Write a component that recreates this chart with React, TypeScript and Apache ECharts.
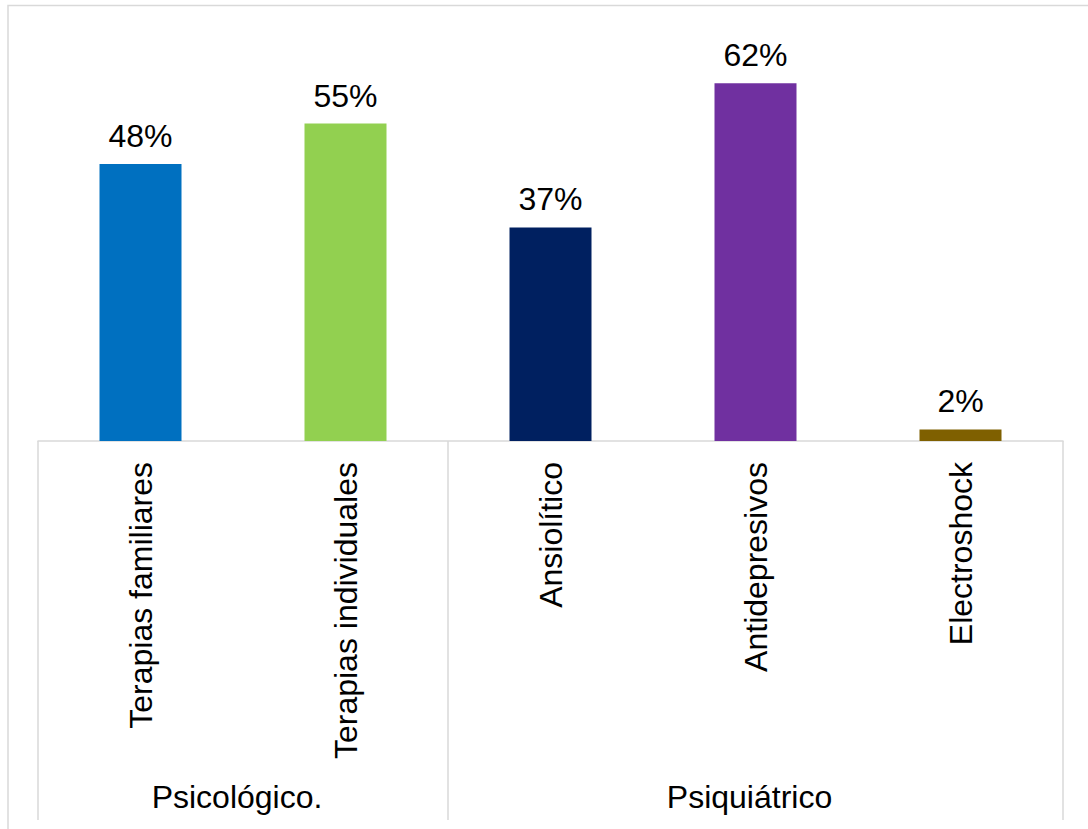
import React, { useEffect, useRef } from "react";
import * as echarts from "echarts";

// Treatment categories, their groups and shares (%)
const categories = [
  "Terapias familiares",
  "Terapias individuales",
  "Ansiolítico",
  "Antidepresivos",
  "Electroshock",
];
const values = [48, 55, 37, 62, 2];
const barColors = ["#0070C0", "#92D050", "#002060", "#7030A0", "#7F6000"];

// Second-level axis groups: name and number of categories they cover
const groupNames = ["Psicológico.", "Psiquiátrico"];
const groupSizes = [2, 3];

const FONT = "'Liberation Sans', Arial, sans-serif";
const FONT_SIZE = 32;
const GRID_LINE = "#d9d9d9";

export default function App() {
  const ref = useRef<HTMLDivElement>(null);

  useEffect(() => {
    if (!ref.current) return;
    const chart = echarts.init(ref.current, null, { renderer: "svg" });

    chart.setOption({
      animation: false,
      backgroundColor: "#ffffff",
      grid: { left: 38, right: 25, top: 37, bottom: 388, containLabel: false },
      xAxis: {
        type: "category",
        data: categories,
        axisLine: { show: true, lineStyle: { color: GRID_LINE, width: 1.5 } },
        axisTick: { show: false },
        axisLabel: {
          rotate: 90,
          margin: 21,
          color: "#000000",
          fontSize: FONT_SIZE,
          fontFamily: FONT,
          interval: 0,
        },
      },
      yAxis: {
        type: "value",
        min: 0,
        max: 70,
        show: false,
        splitLine: { show: false },
      },
      series: [
        {
          type: "bar",
          barWidth: "40%",
          data: values.map((v, i) => ({ value: v, itemStyle: { color: barColors[i] } })),
          label: {
            show: true,
            position: "top",
            distance: 12,
            formatter: "{c}%",
            color: "#000000",
            fontSize: FONT_SIZE,
            fontFamily: FONT,
          },
        },
      ],
    });

    // Category boundaries and group labels, placed from the axis scale
    const c0 = chart.convertToPixel({ xAxisIndex: 0 }, 0) as number;
    const c1 = chart.convertToPixel({ xAxisIndex: 0 }, 1) as number;
    const band = c1 - c0;
    const axisY = chart.convertToPixel({ yAxisIndex: 0 }, 0) as number;
    const lineBottom = axisY + 379;

    const boundaries: number[] = [c0 - band / 2];
    let idx = 0;
    groupSizes.forEach((n) => {
      idx += n;
      boundaries.push(c0 + (idx - 0.5) * band);
    });

    const graphics: any[] = [
      {
        type: "rect",
        shape: { x: 8, y: 5.5, width: 1300, height: 1000 },
        style: { fill: "none", stroke: GRID_LINE, lineWidth: 1.5 },
        silent: true,
      },
    ];
    boundaries.forEach((x) => {
      graphics.push({
        type: "line",
        shape: { x1: x, y1: axisY, x2: x, y2: lineBottom },
        style: { stroke: GRID_LINE, lineWidth: 1.5 },
        silent: true,
      });
    });
    groupNames.forEach((name, g) => {
      const mid = (boundaries[g] + boundaries[g + 1]) / 2 - 6;
      graphics.push({
        type: "text",
        x: mid,
        y: axisY + 372,
        style: {
          text: name,
          fill: "#000000",
          fontSize: FONT_SIZE,
          fontFamily: FONT,
          align: "center",
          verticalAlign: "bottom",
        },
        silent: true,
      });
    });

    chart.setOption({ graphic: graphics });

    return () => chart.dispose();
  }, []);

  return (
    <div
      ref={ref}
      style={{ position: "absolute", left: 0, top: 0, width: 1088, height: 829 }}
    />
  );
}
